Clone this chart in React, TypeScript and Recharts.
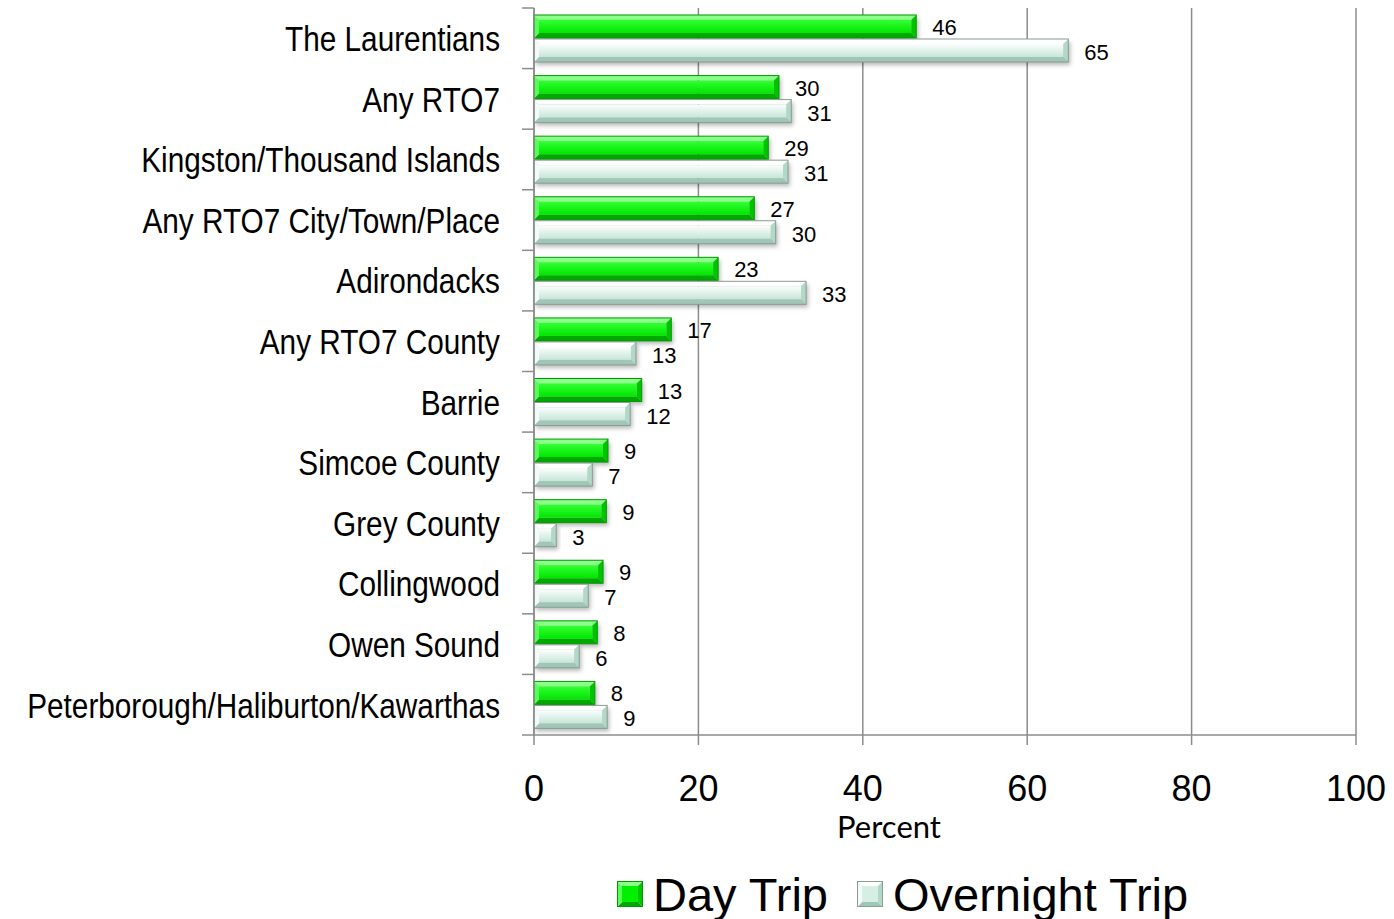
import React from 'react';
import { BarChart, Bar, XAxis, YAxis, CartesianGrid, LabelList, Legend, Label } from 'recharts';

const categories = [
  'The Laurentians',
  'Any RTO7',
  'Kingston/Thousand Islands',
  'Any RTO7 City/Town/Place',
  'Adirondacks',
  'Any RTO7 County',
  'Barrie',
  'Simcoe County',
  'Grey County',
  'Collingwood',
  'Owen Sound',
  'Peterborough/Haliburton/Kawarthas',
];
const dayTrip = [46.5, 29.8, 28.5, 26.8, 22.4, 16.7, 13.1, 9.0, 8.8, 8.4, 7.7, 7.4];
const overnightTrip = [65, 31.3, 30.9, 29.4, 33.1, 12.4, 11.7, 7.1, 2.7, 6.6, 5.5, 8.9];
const dayLabels = [46, 30, 29, 27, 23, 17, 13, 9, 9, 9, 8, 8];
const overnightLabels = [65, 31, 31, 30, 33, 13, 12, 7, 3, 7, 6, 9];
const xTicks = [0, 20, 40, 60, 80, 100];
const seriesNames = ['Day Trip', 'Overnight Trip'];

const data = categories.map((c, i) => ({ name: c, day: dayTrip[i], overnight: overnightTrip[i] }));

const GRID = '#8c8c8c';
const PLOT_TOP = 8;
const PLOT_BOTTOM = 735;
const BAND = (PLOT_BOTTOM - PLOT_TOP) / categories.length;
const SANS = "'Liberation Sans', Arial, sans-serif";

const greenStyle = { top: '#8aff8a', bottom: '#00a800', left: '#55ff55', right: '#00c400', face: 'url(#gFace)', border: '#009a00', flat: '#00f000' };
const mintStyle = { top: '#ffffff', bottom: '#9fc6b6', left: '#f2fbf7', right: '#b2d8c8', face: 'url(#mFace)', border: '#8a9c94', flat: '#d6eee4' };

const makeBevel = (s: any) => (props: any) => {
  const { x, y, width, height } = props;
  if (!width || width <= 0) return null;
  const b = Math.min(5, width / 2, height / 2);
  const x2 = x + width;
  const y2 = y + height;
  return (
    <g>
      <rect x={x + 2} y={y + 3} width={width} height={height} fill="rgba(0,0,0,0.28)" filter="url(#bshadow)" />
      <polygon points={`${x},${y} ${x2},${y} ${x2 - b},${y + b} ${x + b},${y + b}`} fill={s.top} />
      <polygon points={`${x},${y2} ${x2},${y2} ${x2 - b},${y2 - b} ${x + b},${y2 - b}`} fill={s.bottom} />
      <polygon points={`${x},${y} ${x + b},${y + b} ${x + b},${y2 - b} ${x},${y2}`} fill={s.left} />
      <polygon points={`${x2},${y} ${x2 - b},${y + b} ${x2 - b},${y2 - b} ${x2},${y2}`} fill={s.right} />
      <rect x={x + b} y={y + b} width={Math.max(0, width - 2 * b)} height={Math.max(0, height - 2 * b)} fill={s.face} />
      <rect x={x} y={y} width={width} height={height} fill="none" stroke={s.border} strokeWidth={1} />
    </g>
  );
};

const makeLabel = (labels: number[], dy: number) => (props: any) => {
  const { x, y, width, height, index } = props;
  return (
    <text
      x={x + width + 16}
      y={y + height / 2 + dy}
      dominantBaseline="central"
      fontSize={22}
      fontFamily={SANS}
      fill="#000"
    >
      {labels[index]}
    </text>
  );
};

const YTick = (props: any) => {
  const { x, y, payload, index } = props;
  const axisX = 534;
  return (
    <g>
      <line x1={axisX - 12} x2={axisX} y1={y - BAND / 2} y2={y - BAND / 2} stroke={GRID} strokeWidth={1.5} />
      {index === categories.length - 1 && (
        <line x1={axisX - 12} x2={axisX} y1={y + BAND / 2} y2={y + BAND / 2} stroke={GRID} strokeWidth={1.5} />
      )}
      <text
        transform={`translate(${x},${y + 1}) scale(0.85,1)`}
        x={0}
        y={0}
        textAnchor="end"
        dominantBaseline="central"
        fontSize={35}
        fontFamily={SANS}
        fill="#000"
      >
        {payload.value}
      </text>
    </g>
  );
};

const XTick = (props: any) => {
  const { x, y, payload } = props;
  return (
    <text x={x} y={y} dy="0.71em" textAnchor="middle" fontSize={36} fontFamily={SANS} fill="#000">
      {payload.value}
    </text>
  );
};

const PercentLabel = (props: any) => {
  const { viewBox } = props;
  return (
    <text
      x={viewBox.x + viewBox.width / 2 - 56}
      y={826}
      textAnchor="middle"
      dominantBaseline="central"
      fontSize={31}
      fontFamily="Lato, sans-serif"
      fill="#000"
    >
      Percent
    </text>
  );
};

const LegendIcon = ({ s }: any) => (
  <svg width={26} height={26} style={{ display: 'block' }}>
    <polygon points="0,0 26,0 21,5 5,5" fill={s.top} />
    <polygon points="0,26 26,26 21,21 5,21" fill={s.bottom} />
    <polygon points="0,0 5,5 5,21 0,26" fill={s.left} />
    <polygon points="26,0 21,5 21,21 26,26" fill={s.right} />
    <rect x={5} y={5} width={16} height={16} fill={s.flat} />
    <rect x={0.5} y={0.5} width={25} height={25} fill="none" stroke={s.border} />
  </svg>
);

const LegendContent = () => (
  <div style={{ position: 'relative', height: 60, width: 1394, fontFamily: SANS, fontSize: 47 }}>
    <div style={{ position: 'absolute', left: 617, top: 22 }}>
      <LegendIcon s={greenStyle} />
    </div>
    <div style={{ position: 'absolute', left: 653, top: 12, lineHeight: '47px' }}>{seriesNames[0]}</div>
    <div style={{ position: 'absolute', left: 857, top: 22 }}>
      <LegendIcon s={mintStyle} />
    </div>
    <div style={{ position: 'absolute', left: 893, top: 12, lineHeight: '47px' }}>{seriesNames[1]}</div>
  </div>
);

export default function App() {
  return (
    <div style={{ position: 'absolute', left: 0, top: 0, width: 1394, height: 919, background: '#fff' }}>
      <BarChart
        width={1394}
        height={919}
        data={data}
        layout="vertical"
        margin={{ top: PLOT_TOP, right: 38, left: 0, bottom: 0 }}
        barSize={23}
        barGap={1}
      >
        <defs>
          <linearGradient id="gFace" x1="0" y1="0" x2="0" y2="1">
            <stop offset="0%" stopColor="#33ff33" />
            <stop offset="100%" stopColor="#00e600" />
          </linearGradient>
          <linearGradient id="mFace" x1="0" y1="0" x2="0" y2="1">
            <stop offset="0%" stopColor="#fbfefd" />
            <stop offset="100%" stopColor="#c6e6d8" />
          </linearGradient>
          <filter id="bshadow" x="-10%" y="-50%" width="120%" height="200%">
            <feGaussianBlur stdDeviation="2" />
          </filter>
        </defs>
        <CartesianGrid vertical horizontal={false} stroke={GRID} strokeWidth={1.5} />
        <XAxis
          type="number"
          domain={[0, 100]}
          ticks={xTicks}
          interval={0}
          height={124}
          tickSize={10}
          tickMargin={30}
          axisLine={{ stroke: GRID, strokeWidth: 1.5 }}
          tickLine={{ stroke: GRID, strokeWidth: 1.5 }}
          tick={<XTick />}
        >
          <Label content={<PercentLabel />} />
        </XAxis>
        <YAxis
          type="category"
          dataKey="name"
          width={534}
          interval={0}
          tickSize={12}
          tickMargin={22}
          tickLine={false}
          axisLine={{ stroke: GRID, strokeWidth: 1.5 }}
          tick={<YTick />}
        />
        <Legend verticalAlign="bottom" height={60} wrapperStyle={{ left: 0, width: 1394 }} content={<LegendContent />} />
        <Bar dataKey="day" name={seriesNames[0]} isAnimationActive={false} shape={makeBevel(greenStyle)}>
          <LabelList dataKey="day" content={makeLabel(dayLabels, 1)} />
        </Bar>
        <Bar dataKey="overnight" name={seriesNames[1]} isAnimationActive={false} shape={makeBevel(mintStyle)}>
          <LabelList dataKey="overnight" content={makeLabel(overnightLabels, 2)} />
        </Bar>
      </BarChart>
    </div>
  );
}
